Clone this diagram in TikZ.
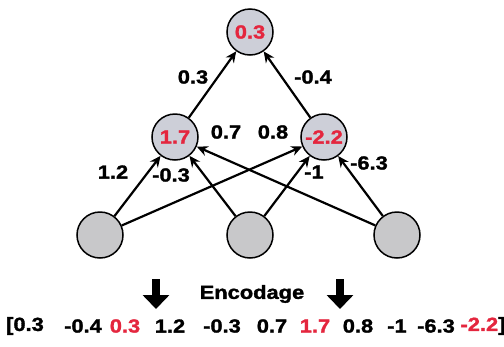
\documentclass[tikz,border=0pt]{standalone}
\usepackage{fontspec}
\setmainfont{Liberation Sans}[FakeStretch=1.15,FakeBold=1.6]
\usetikzlibrary{arrows.meta}
\definecolor{nodered}{RGB}{228,38,62}
\definecolor{topfill}{RGB}{205,207,216}
\definecolor{infill}{RGB}{200,200,202}
\tikzset{
  neuron/.style={circle,draw=black,line width=1.5pt,minimum size=46pt,inner sep=0pt,fill=topfill,
    font=\fontsize{19}{22}\selectfont\bfseries,text=nodered},
  inneuron/.style={neuron,fill=infill},
  conn/.style={line width=2.2pt,-{Stealth[length=11pt,width=10pt]}},
  wlabel/.style={font=\fontsize{19}{22}\selectfont\bfseries,inner sep=0pt},
  bigarrow/.style={line width=8pt,-{Triangle[length=14pt,width=26pt]}},
}
\begin{document}
\begin{tikzpicture}[x=1pt,y=-1pt]
\useasboundingbox (0,0) rectangle (504,346);
\node[neuron] (top) at (250,32) {0.3};
\node[neuron] (h1) at (175,137) {1.7};
\node[neuron] (h2) at (324,137) {-2.2};
\node[inneuron] (i1) at (100,235) {};
\node[inneuron] (i2) at (250,235) {};
\node[inneuron] (i3) at (397,235) {};

\draw[conn] (h1) -- (top);
\draw[conn] (h2) -- (top);
\draw[conn] (i1) -- (h1);
\draw[conn] (i2) -- (h1);
\draw[conn] (i3) -- (h1);
\draw[conn] (i1) -- (h2);
\draw[conn] (i2) -- (h2);
\draw[conn] (i3) -- (h2);

\node[wlabel] (l1) at (193,77) {0.3};
\node[wlabel] (l2) at (313,77) {-0.4};
\node[wlabel] (l3) at (113,172) {1.2};
\node[wlabel] (l4) at (171,175) {-0.3};
\node[wlabel] (l5) at (226,132) {0.7};
\node[wlabel] (l6) at (273,132) {0.8};
\node[wlabel] (l7) at (314,172) {-1};
\node[wlabel] (l8) at (369,163) {-6.3};

\coordinate (a1s) at (156,279);
\coordinate (a1e) at (156,309);
\coordinate (a2s) at (340,279);
\coordinate (a2e) at (340,309);
\draw[bigarrow] (a1s) -- (a1e);
\draw[bigarrow] (a2s) -- (a2e);
\node[wlabel] (enc) at (252,294) {Encodage};

\node[wlabel] (b1) at (25,326) {[0.3};
\node[wlabel] (b2) at (83,326) {-0.4};
\node[wlabel,text=nodered] (b3) at (125,326) {0.3};
\node[wlabel] (b4) at (170,326) {1.2};
\node[wlabel] (b5) at (222,326) {-0.3};
\node[wlabel] (b6) at (272,326) {0.7};
\node[wlabel,text=nodered] (b7) at (315,326) {1.7};
\node[wlabel] (b8) at (358,326) {0.8};
\node[wlabel] (b9) at (397,326) {-1};
\node[wlabel] (b10) at (436,326) {-6.3};
\node[wlabel] (b11) at (483,326) {\textcolor{nodered}{-2.2}]};
\end{tikzpicture}
\end{document}
